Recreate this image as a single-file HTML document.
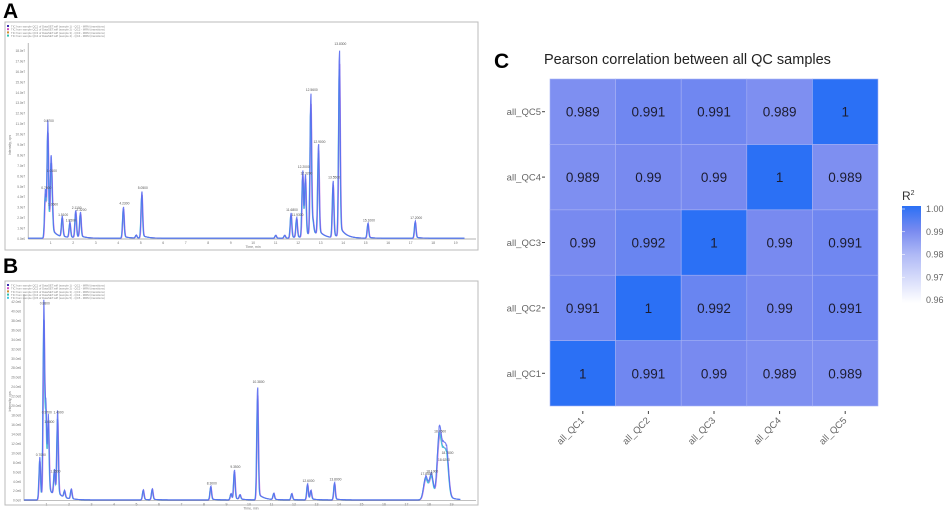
<!DOCTYPE html>
<html><head><meta charset="utf-8">
<style>
html,body{margin:0;padding:0;background:#fff;}
body{width:948px;height:512px;overflow:hidden;font-family:"Liberation Sans",sans-serif;}
svg{display:block;}
</style></head>
<body>
<svg id="fig" width="948" height="512" viewBox="0 0 948 512" xmlns="http://www.w3.org/2000/svg">
  <text x="3" y="18" font-size="21" font-weight="bold" fill="#000">A</text>
  <text x="3" y="273" font-size="21" font-weight="bold" fill="#000">B</text>
  <text x="494" y="68" font-size="21" font-weight="bold" fill="#000">C</text>
  <g id="panelA"></g>
  <g id="panelB"></g>
  <g id="panelC"></g>
</svg>
<script>
// ---------- Chromatogram data (time min, intensity) ----------
const peaksATime = [0.76,0.87,1.01,1.06,1.51,1.85,2.11,2.32,4.23,5.05,4.8,11.0,11.68,11.93,12.2,12.32,12.56,12.66,12.9,13.55,13.83,15.1,17.2,11.4];
const peaksAHeight = [4.6,11.0,6.2,3.0,2.0,1.5,2.7,2.5,3.1,4.6,0.3,0.3,2.5,2.0,6.6,6.0,14.0,1.0,9.0,5.6,18.4,1.5,1.7,0.3];
const peaksBTime = [0.7,0.88,0.97,1.08,1.35,1.49,1.8,2.1,5.3,5.7,8.3,9.2,9.35,9.6,10.38,11.1,11.9,12.6,12.75,13.8,17.85,18.1,18.45,18.62,18.78];
const peaksBHeight = [9.0,41.0,18.0,16.0,5.5,18.0,1.5,2.2,2.2,2.4,3.0,1.4,6.5,1.0,24.5,1.4,1.4,3.5,2.0,3.8,5.0,5.5,14.0,8.0,9.5];
const yTicksA = [0,1,2,3,4,5,6,7,8,9,10,11,12,13,14,15,16,17,18];
const yTicksB = [0,2,4,6,8,10,12,14,16,18,20,22,24,26,28,30,32,34,36,38,40,42];
const xTicks = [1,2,3,4,5,6,7,8,9,10,11,12,13,14,15,16,17,18,19];

const NS="http://www.w3.org/2000/svg";
function mk(tag,attrs,parent){const e=document.createElementNS(NS,tag);for(const k in attrs)e.setAttribute(k,attrs[k]);parent.appendChild(e);return e;}

function chrom(g,cfg,times,heights,yTicks,unit){
  const sx=t=>cfg.x0+t*cfg.pxPerMin;
  const sy=v=>cfg.base-(v/cfg.yMax)*(cfg.base-cfg.top);
  const fr=mk('rect',{x:cfg.fx,y:cfg.fy,width:cfg.fw,height:cfg.fh,fill:'#fff',stroke:'#bbb','stroke-width':1},g);
  
  
  const cols=['#3a2fb0','#d050c0','#d09030','#30c0b0','#40c8e0'];
  for(let i=0;i<cfg.legendRows;i++){
    const y=cfg.fy+3+i*3.2;
    const d=mk('rect',{x:cfg.fx+2,y:y,width:2,height:2,fill:cols[i]},g);
    
    
    const t=mk('text',{x:cfg.fx+6,y:y+2.4,'font-size':2.8,fill:'#888'},g);
    t.textContent='TIC from sample QC'+(i+1)+' of DataSET.wiff (sample '+(i+1)+') - QC'+(i+1)+' - MRM (transitions)';
    
    
  }
  const ya=mk('line',{x1:cfg.x0,y1:cfg.top-8,x2:cfg.x0,y2:cfg.base,stroke:'#999','stroke-width':0.7},g);
  
  
  const xa=mk('line',{x1:cfg.x0,y1:cfg.base,x2:cfg.fx+cfg.fw-2,y2:cfg.base,stroke:'#999','stroke-width':0.7},g);
  
  
  yTicks.forEach(v=>{
    const t=mk('text',{x:cfg.x0-3,y:sy(v)+1,'font-size':3.2,fill:'#777','text-anchor':'end'},g);
    t.textContent=v===0?'0.0e0':(v+'.0'+unit);
    
    
  });
  xTicks.forEach(v=>{
    const t=mk('text',{x:sx(v),y:cfg.base+5,'font-size':3.5,fill:'#777','text-anchor':'middle'},g);
    t.textContent=v;
    
    
  });
  const xt=mk('text',{x:(cfg.x0+cfg.fx+cfg.fw)/2,y:cfg.base+9,'font-size':3.5,fill:'#777','text-anchor':'middle'},g);
  xt.textContent='Time, min';
  
  
  const yt=mk('text',{x:cfg.fx+6,y:(cfg.top+cfg.base)/2,'font-size':3.5,fill:'#777','text-anchor':'middle',transform:`rotate(-90 ${cfg.fx+6} ${(cfg.top+cfg.base)/2})`},g);
  yt.textContent='Intensity, cps';
  
  
  const traceCols=[['#d070e0',0.85,0.015],['#35c8d8',0.85,-0.01],['#5a6cf0',0.95,0]];
  traceCols.forEach((tc,ti)=>{
    let d='';
    for(let t=0;t<=cfg.tMax;t+=0.01){
      let v=cfg.yMax*0.004;
      for(let i=0;i<times.length;i++){
        const w=(cfg.wide&&times[i]>17.7)?0.09:0.035;
        const dt=t-times[i]-tc[2];
        v+=heights[i]*tc[1]*Math.exp(-dt*dt/(2*w*w));
        if(dt>0) v+=heights[i]*0.06*Math.exp(-dt/0.25);
      }
      d+=(d?'L':'M')+sx(t).toFixed(1)+','+sy(v).toFixed(1);
    }
    const p=mk('path',{d:d,fill:'none',stroke:tc[0],'stroke-width':1.1,'stroke-opacity':0.9},g);
    
    
  });
  times.forEach((t,i)=>{
    if(heights[i]<cfg.labelMin) return;
    const lb=mk('text',{x:sx(t)+1,y:sy(heights[i])-2,'font-size':3.3,fill:'#555','text-anchor':'middle'},g);
    lb.textContent=t.toFixed(4);
    
    
  });
}

chrom(document.getElementById('panelA'),
 {fx:5,fy:22,fw:473,fh:228,x0:28.2,pxPerMin:22.5,base:239,top:51,yMax:18,tMax:19.4,legendRows:4,labelMin:1.4},
 peaksATime,peaksAHeight,yTicksA,'e7');
chrom(document.getElementById('panelB'),
 {fx:5,fy:281,fw:473,fh:224,x0:24,pxPerMin:22.5,base:500.7,top:302,yMax:42,tMax:19.4,legendRows:5,labelMin:3,wide:true},
 peaksBTime,peaksBHeight,yTicksB,'e6');

// ---------- Heatmap ----------
const sampleNames=['all_QC1','all_QC2','all_QC3','all_QC4','all_QC5'];
const corrQC1=[1,0.991,0.99,0.989,0.989];
const corrQC2=[0.991,1,0.992,0.99,0.991];
const corrQC3=[0.99,0.992,1,0.99,0.991];
const corrQC4=[0.989,0.99,0.99,1,0.989];
const corrQC5=[0.989,0.991,0.991,0.989,1];
const legendTicks=[1.00,0.99,0.98,0.97,0.96];
const corr=[corrQC1,corrQC2,corrQC3,corrQC4,corrQC5]; // corr[y][x]

(function(){
  const g=document.getElementById('panelC');
  const gx0=550,gy0=79,gx1=878,gy1=406,n=sampleNames.length;
  const cw=(gx1-gx0)/n,ch=(gy1-gy0)/n;
  const vmin=0.96,vmax=1.0;
  const stops=[[0,[255,255,255]],[0.5,[175,185,246]],[0.75,[120,138,240]],[1,[43,112,245]]];
  function col(v){
    let t=Math.max(0,Math.min(1,(v-vmin)/(vmax-vmin)));
    for(let i=1;i<stops.length;i++){if(t<=stops[i][0]){const a=stops[i-1],b=stops[i];const f=(t-a[0])/(b[0]-a[0]);return 'rgb('+a[1].map((c,k)=>Math.round(c+(b[1][k]-c)*f)).join(',')+')';}}
    return 'rgb(43,112,245)';
  }
  const title=mk('text',{x:544,y:64,'font-size':14.5,fill:'#222'},g);
  title.textContent='Pearson correlation between all QC samples';
  
  
  for(let yi=0;yi<n;yi++){
    for(let xi=0;xi<n;xi++){
      const v=corr[yi][xi];
      const x=gx0+xi*cw,y=gy1-(yi+1)*ch;
      const r=mk('rect',{x:x,y:y,width:cw,height:ch,fill:col(v),stroke:'#a8b2f4','stroke-width':0.6},g);
      
      
      const t=mk('text',{x:x+cw/2,y:y+ch/2+5,'font-size':13.5,fill:'#1c1c30','text-anchor':'middle'},g);
      t.textContent=String(v);
      
      
    }
  }
  sampleNames.forEach((s,i)=>{
    const cy=gy1-(i+0.5)*ch;
    const t=mk('text',{x:541,y:cy+3.5,'font-size':9.5,fill:'#666','text-anchor':'end'},g);
    t.textContent=s;
    
    
    const tk=mk('line',{x1:542,y1:cy,x2:545,y2:cy,stroke:'#444','stroke-width':1},g);
    
    
    const cx=gx0+(i+0.5)*cw;
    const tk2=mk('line',{x1:cx,y1:gy1+5,x2:cx,y2:gy1+8,stroke:'#444','stroke-width':1},g);
    
    
    const xt=mk('text',{x:cx+2,y:gy1+15,'font-size':9.5,fill:'#666','text-anchor':'end',transform:`rotate(-45 ${cx+2} ${gy1+15})`},g);
    xt.textContent=s;
    
    
  });
  const lx=902,ly0=206,ly1=303;
  const defs=mk('defs',{},g);
  const lg=mk('linearGradient',{id:'lgrad',x1:0,y1:1,x2:0,y2:0},defs);
  stops.forEach(s=>mk('stop',{offset:s[0],'stop-color':'rgb('+s[1].join(',')+')'},lg));
  const bar=mk('rect',{x:lx,y:ly0,width:19,height:ly1-ly0,fill:'url(#lgrad)'},g);
  
  
  const lt=mk('text',{x:902,y:200,'font-size':12,fill:'#333'},g);
  lt.innerHTML='R<tspan dy="-5" font-size="7">2</tspan>';
  
  
  legendTicks.forEach(v=>{
    const y=ly0+3+(vmax-v)/(vmax-vmin)*(ly1-ly0-6);
    const t=mk('text',{x:926,y:y+3,'font-size':9,fill:'#666'},g);
    t.textContent=v.toFixed(2);
    
    
    const tk=mk('line',{x1:lx,y1:y,x2:lx+3,y2:y,stroke:'#fff','stroke-width':0.6},g);
    
    
  });
})();
</script>
</body></html>
